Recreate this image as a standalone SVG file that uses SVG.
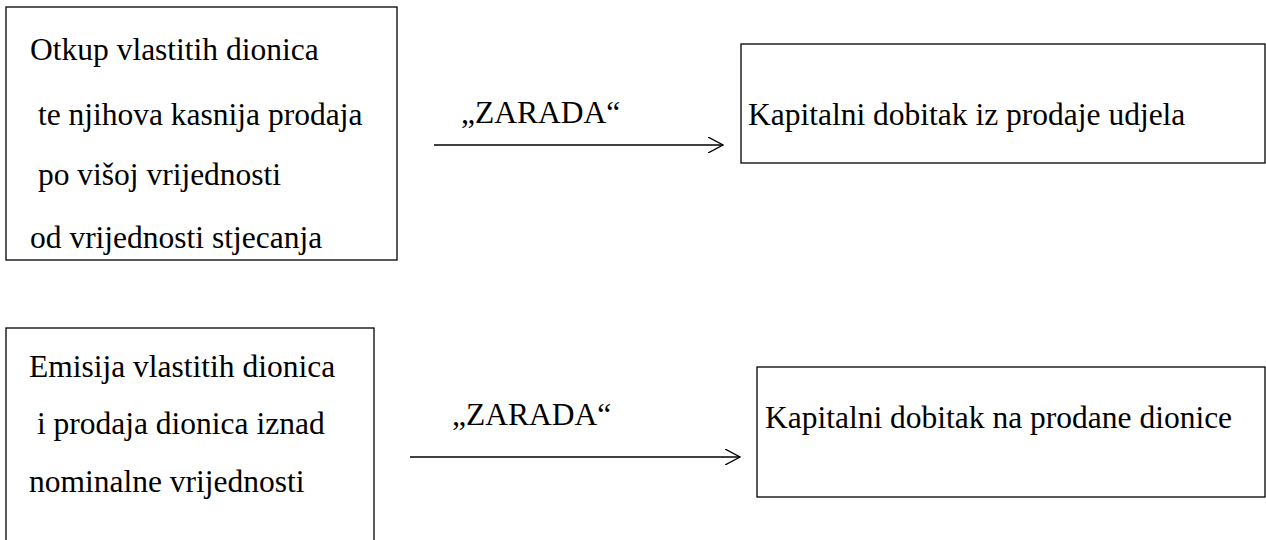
<svg xmlns="http://www.w3.org/2000/svg" width="1266" height="540" viewBox="0 0 1266 540">
<style>
.box{fill:#fff;stroke:#000;stroke-width:1.3}
.t{font-family:"Times New Roman",Times,"Liberation Serif",serif;font-size:31.5px;fill:#000}
.conn{stroke:#000;stroke-width:1.3;fill:none}
</style>
<defs>
<marker id="arr" viewBox="0 0 16 16" refX="15" refY="8" markerWidth="16" markerHeight="16" markerUnits="userSpaceOnUse" orient="auto">
<path d="M0,0 L15,8 L0,16" fill="none" stroke="#000" stroke-width="1.3"/>
</marker>
</defs>
<rect width="1266" height="540" fill="#fff"/>
<g id="n1">
<rect class="box" x="6" y="7" width="391" height="253"/>
<text class="t" x="30" y="60">Otkup vlastitih dionica</text>
<text class="t" x="30" y="125" xml:space="preserve"> te njihova kasnija prodaja</text>
<text class="t" x="30" y="185" xml:space="preserve"> po višoj vrijednosti</text>
<text class="t" x="30" y="248">od vrijednosti stjecanja</text>
</g>
<g id="n2">
<rect class="box" x="741" y="44" width="524" height="119"/>
<text class="t" x="748" y="125">Kapitalni dobitak iz prodaje udjela</text>
</g>
<g id="n3">
<rect class="box" x="6" y="328" width="368" height="220"/>
<text class="t" x="29" y="377">Emisija vlastitih dionica</text>
<text class="t" x="29" y="434" xml:space="preserve"> i prodaja dionica iznad</text>
<text class="t" x="29" y="492">nominalne vrijednosti</text>
</g>
<g id="n4">
<rect class="box" x="757" y="367" width="508" height="130"/>
<text class="t" x="765" y="428">Kapitalni dobitak na prodane dionice</text>
</g>
<g id="connectors">
<line class="conn" x1="434" y1="145" x2="723" y2="145" marker-end="url(#arr)"/>
<text class="t" x="461" y="123">„ZARADA“</text>
<line class="conn" x1="410" y1="457" x2="740" y2="457" marker-end="url(#arr)"/>
<text class="t" x="452" y="425">„ZARADA“</text>
</g>
</svg>
